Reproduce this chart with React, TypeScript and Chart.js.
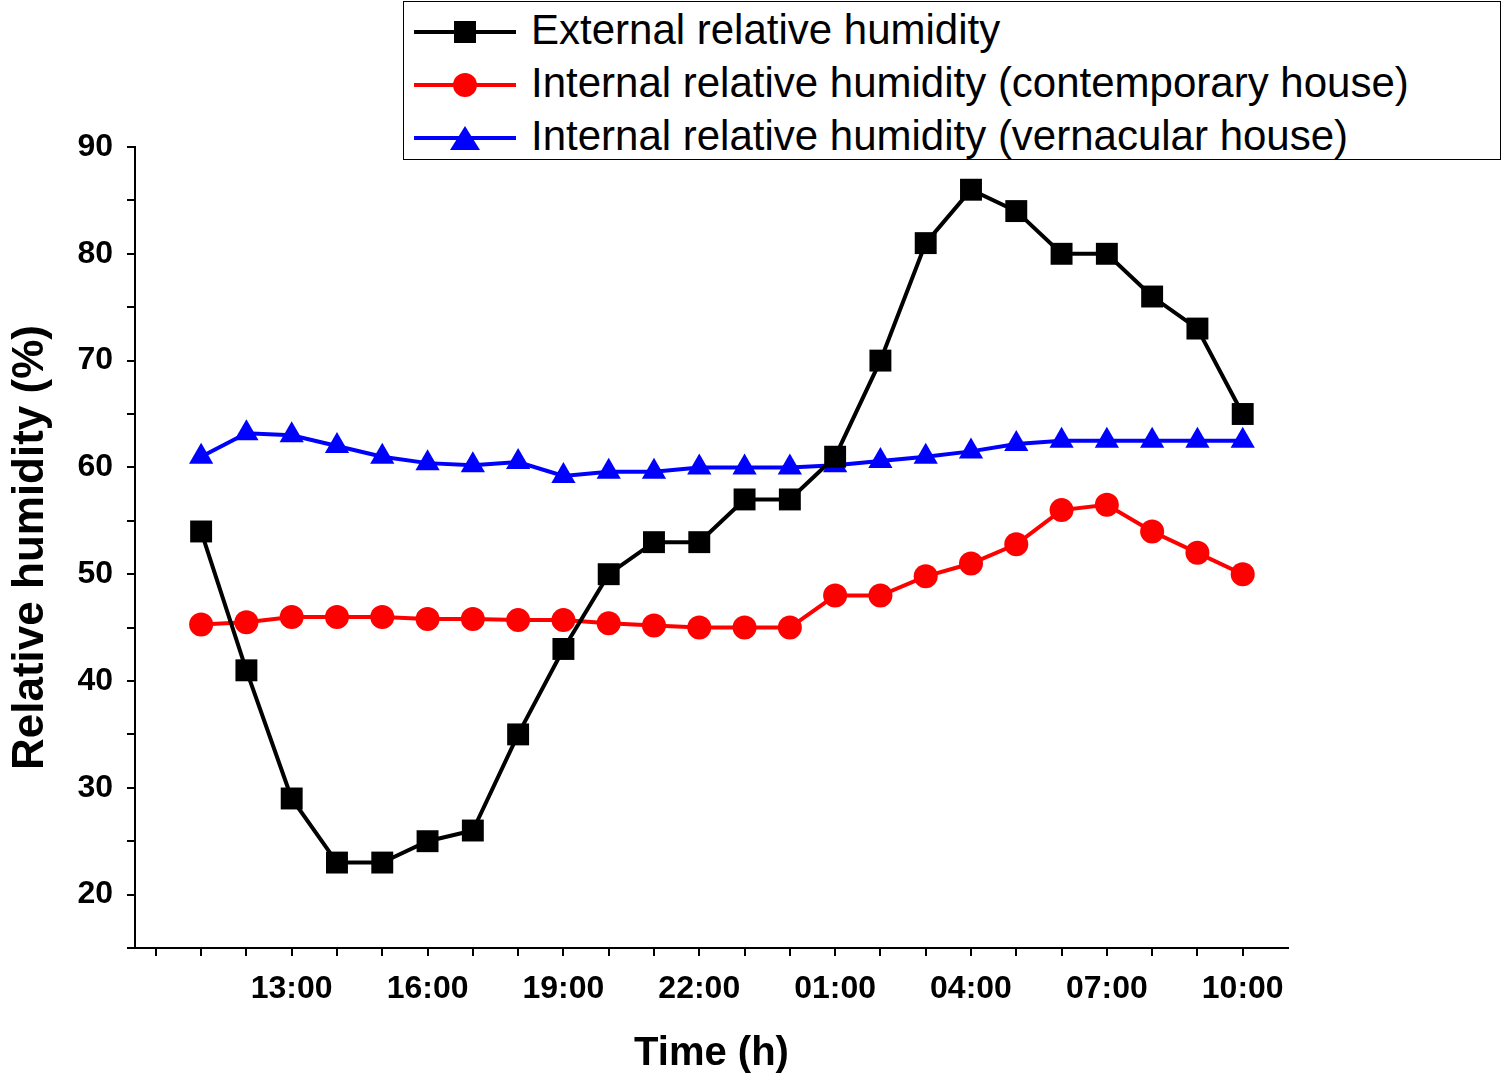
import { useEffect, useRef } from 'react';
import Chart from 'chart.js/auto';

// hours after 11:00 (0 = 11:00, 23 = 10:00 next day)
const hours = Array.from({ length: 24 }, (_, i) => i);
const tickLabels: Record<number, string> = {
    2: '13:00', 5: '16:00', 8: '19:00', 11: '22:00', 14: '01:00', 17: '04:00', 20: '07:00', 23: '10:00',
};
const external = [54, 41, 29, 23, 23, 25, 26, 35, 43, 50, 53, 53, 57, 57, 61, 70, 81, 86, 84, 80, 80, 76, 73, 65];
const contemporary = [45.3, 45.5, 46, 46, 46, 45.8, 45.8, 45.7, 45.7, 45.4, 45.2, 45, 45, 45, 48, 48, 49.8, 51, 52.8, 56, 56.5, 54, 52, 50];
const vernacular = [61, 63.2, 63, 62, 61, 60.4, 60.2, 60.5, 59.2, 59.6, 59.6, 60, 60, 60, 60.2, 60.6, 61, 61.5, 62.2, 62.5, 62.5, 62.5, 62.5, 62.5];

const legendItems = [
    { label: 'External relative humidity', color: '#000000', shape: 'square' },
    { label: 'Internal relative humidity (contemporary house)', color: '#ff0000', shape: 'circle' },
    { label: 'Internal relative humidity (vernacular house)', color: '#0000ff', shape: 'triangle' },
];

const FONT = 'Arial, "Liberation Sans", sans-serif';

const Marker = ({ color, shape }: { color: string; shape: string }) => {
    if (shape === 'triangle') {
        return <div style={{ position: 'absolute', left: 36, top: -10, width: 0, height: 0, borderLeft: '15px solid transparent', borderRight: '15px solid transparent', borderBottom: `24px solid ${color}` }} />;
    }
    const size = shape === 'square' ? 22 : 24;
    return <div style={{ position: 'absolute', left: 51 - size / 2, top: 2 - size / 2, width: size, height: size, background: color, borderRadius: shape === 'circle' ? '50%' : 0 }} />;
};

export default function App() {
    const canvas = useRef<HTMLCanvasElement>(null);

    useEffect(() => {
        const mk = (label: string, data: number[], color: string, style: any, r: number) => ({
            label,
            data: data.map((y, i) => ({ x: hours[i], y })),
            borderColor: color,
            backgroundColor: color,
            borderWidth: 4,
            pointStyle: style,
            pointRadius: r,
            pointHoverRadius: r,
            pointBorderWidth: 0,
        });
        const chart = new Chart(canvas.current!, {
            type: 'line',
            data: {
                datasets: [
                    mk('External relative humidity', external, '#000000', 'rect', 15.5),
                    mk('Internal relative humidity (contemporary house)', contemporary, '#ff0000', 'circle', 12),
                    mk('Internal relative humidity (vernacular house)', vernacular, '#0000ff', 'triangle', 14),
                ],
            },
            options: {
                animation: false,
                responsive: false,
                layout: { padding: { left: 0, top: 147, right: 214, bottom: 0 } },
                plugins: { legend: { display: false }, tooltip: { enabled: false } },
                scales: {
                    x: {
                        type: 'linear',
                        min: -1.46,
                        max: 24,
                        afterFit: (s: any) => { s.height = 134; },
                        afterBuildTicks: (s: any) => { s.ticks = Array.from({ length: 25 }, (_, i) => ({ value: i - 1 })); },
                        grid: { drawOnChartArea: false, drawTicks: true, tickLength: 8, color: '#000', lineWidth: 2 },
                        border: { display: true, color: '#000', width: 2 },
                        ticks: {
                            color: '#000',
                            font: { family: FONT, size: 32, weight: 'bold' },
                            maxRotation: 0,
                            autoSkip: false,
                            padding: 14,
                            callback: (v: any) => tickLabels[v] ?? '',
                        },
                        title: { display: true, text: 'Time (h)', color: '#000', font: { family: FONT, size: 40, weight: 'bold' }, padding: { top: 10 } },
                    },
                    y: {
                        min: 15,
                        max: 90,
                        afterFit: (s: any) => { s.width = 135; },
                        afterBuildTicks: (s: any) => { s.ticks = Array.from({ length: 16 }, (_, i) => ({ value: 15 + i * 5 })); },
                        grid: { drawOnChartArea: false, drawTicks: true, tickLength: 8, color: '#000', lineWidth: 2 },
                        border: { display: true, color: '#000', width: 2 },
                        ticks: {
                            color: '#000',
                            font: { family: FONT, size: 32, weight: 'bold' },
                            padding: 14,
                            callback: (v: any) => (v % 10 === 0 ? String(v) : ''),
                        },
                        title: { display: true, text: 'Relative humidity (%)', color: '#000', font: { family: FONT, size: 44, weight: 'bold' }, padding: { bottom: 4 } },
                    },
                },
            },
        });
        return () => chart.destroy();
    }, []);

    return (
        <div style={{ position: 'absolute', left: 0, top: 0, width: 1502, height: 1082, background: '#fff' }}>
            <canvas ref={canvas} width={1502} height={1082} />
            <div style={{ position: 'absolute', left: 403, top: 1, width: 1096, height: 157, border: '1px solid #000', background: '#fff', fontFamily: FONT }}>
                {legendItems.map((it, i) => (
                    <div key={i} style={{ position: 'absolute', left: 10, top: 28 + i * 53, width: 1080 }}>
                        <div style={{ position: 'absolute', left: 0, top: 0, width: 102, height: 4, background: it.color }} />
                        <Marker color={it.color} shape={it.shape} />
                        <div style={{ position: 'absolute', left: 117, top: -24, fontSize: 42, lineHeight: '48px', color: '#000', whiteSpace: 'nowrap' }}>{it.label}</div>
                    </div>
                ))}
            </div>
        </div>
    );
}
